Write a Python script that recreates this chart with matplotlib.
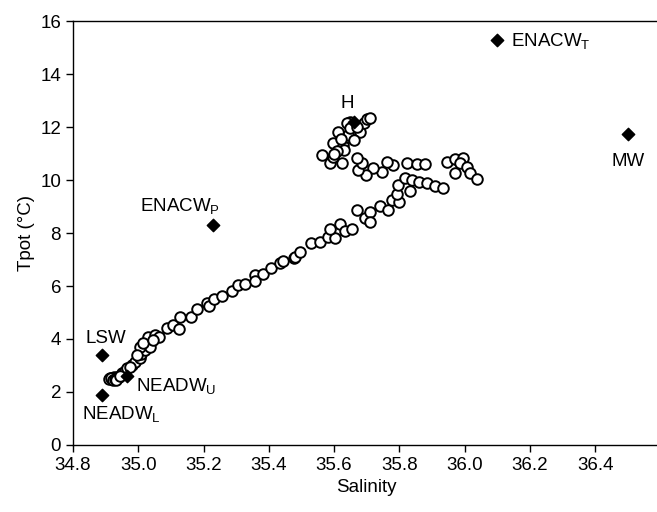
import matplotlib
matplotlib.use("Agg")
import matplotlib.pyplot as plt

plt.rcParams['font.family'] = ['Liberation Sans', 'DejaVu Sans']
plt.rcParams['mathtext.fontset'] = 'custom'
plt.rcParams['mathtext.rm'] = 'Liberation Sans'

# station profile (salinity, potential temperature)
salinity = [
    34.915, 34.920, 34.925, 34.930, 34.935, 34.940, 34.949, 34.958, 34.965, 34.980,
    34.990, 35.005, 35.010, 35.020, 35.005, 35.036, 35.031, 35.051, 35.065, 35.087,
    35.107, 35.126, 35.128, 35.161, 35.179, 35.210, 35.218, 35.232, 35.256, 35.286,
    35.307, 35.327, 35.358, 35.358, 35.383, 35.408, 35.434, 35.443, 35.477, 35.480,
    35.496, 35.528, 35.557, 35.582, 35.603, 35.588, 35.618, 35.633, 35.654, 35.669,
    35.695, 35.710, 35.710, 35.741, 35.766, 35.776, 35.800, 35.794, 35.797, 35.817,
    35.832, 35.838, 35.861, 35.884, 35.909, 35.933,
    35.822, 35.853, 35.878, 35.947, 35.970, 35.994, 35.986, 36.006, 35.970, 36.016,
    36.039, 35.781, 35.761, 35.746, 35.720, 35.698, 35.674, 35.684, 35.669, 35.623,
    35.587, 35.598, 35.562, 35.628, 35.598, 35.638, 35.643, 35.613, 35.679, 35.649,
    35.638, 35.690, 35.700, 35.710, 35.630, 35.620, 35.660, 35.610, 35.650, 35.670,
    35.600, 34.912, 34.918, 34.922, 34.928, 34.933, 34.945, 34.975, 34.995, 35.015,
    35.045,
]
tpot = [
    2.52, 2.50, 2.55, 2.52, 2.55, 2.58, 2.70, 2.80, 2.89, 3.02,
    3.15, 3.27, 3.45, 3.58, 3.71, 3.71, 4.06, 4.15, 4.06, 4.40,
    4.53, 4.37, 4.84, 4.84, 5.12, 5.35, 5.25, 5.50, 5.62, 5.82,
    6.04, 6.08, 6.42, 6.20, 6.45, 6.67, 6.88, 6.95, 7.04, 7.08,
    7.29, 7.63, 7.67, 7.86, 7.80, 8.14, 8.33, 8.09, 8.14, 8.87,
    8.55, 8.80, 8.43, 9.03, 8.87, 9.25, 9.18, 9.46, 9.81, 10.06,
    9.58, 10.00, 9.94, 9.90, 9.77, 9.71,
    10.63, 10.60, 10.60, 10.69, 10.78, 10.82, 10.63, 10.50, 10.25, 10.28,
    10.04, 10.57, 10.69, 10.31, 10.44, 10.19, 10.38, 10.63, 10.82, 10.65,
    10.65, 10.88, 10.94, 11.32, 11.38, 11.63, 11.70, 11.82, 11.82, 12.20,
    12.16, 12.14, 12.30, 12.35, 11.13, 11.55, 11.50, 11.10, 11.95, 12.00,
    11.00, 2.48, 2.53, 2.47, 2.50, 2.46, 2.60, 2.95, 3.40, 3.85,
    3.95,
]

# water mass end members
em_names = ['ENACW$_\\mathrm{T}$', 'MW', 'H', 'ENACW$_\\mathrm{P}$', 'LSW',
            'NEADW$_\\mathrm{U}$', 'NEADW$_\\mathrm{L}$']
em_sal = [36.10, 36.50, 35.66, 35.23, 34.89, 34.965, 34.888]
em_tpot = [15.3, 11.75, 12.2, 8.3, 3.4, 2.6, 1.9]

fig = plt.figure(figsize=(6.57, 5.12), dpi=100)
ax = fig.add_axes([0.111, 0.1309, 0.8945, 0.828])

ax.scatter(salinity, tpot, s=58, facecolors='white', edgecolors='black',
           linewidths=1.4, zorder=2)
ax.scatter(em_sal, em_tpot, s=40, marker='D', color='black', zorder=3)

# label placement (data coords)
lab_x = [36.141, 36.50, 35.639, 35.005, 34.837, 34.993, 34.827]
lab_y = [15.03, 10.54, 12.71, 8.80, 3.84, 2.01, 0.97]
lab_ha = ['left', 'center', 'center', 'left', 'left', 'left', 'left']
for name, lx, ly, ha in zip(em_names, lab_x, lab_y, lab_ha):
    ax.text(lx, ly, name, ha=ha, va='baseline', fontsize=13.5, zorder=4)

ax.set_xlim(34.8, 36.6)
ax.set_ylim(0, 16)
ax.set_xticks([34.8, 35.0, 35.2, 35.4, 35.6, 35.8, 36.0, 36.2, 36.4])
ax.set_xticklabels(['34.8', '35.0', '35.2', '35.4', '35.6', '35.8', '36.0', '36.2', '36.4'])
ax.set_yticks(range(0, 17, 2))
ax.tick_params(direction='out', length=5, width=1, labelsize=13.5, colors='black')
ax.set_xlabel('Salinity', fontsize=13.5)
ax.set_ylabel('Tpot (°C)', fontsize=13.5)
for sp in ax.spines.values():
    sp.set_linewidth(1)

fig.savefig('out.png', dpi=100)
